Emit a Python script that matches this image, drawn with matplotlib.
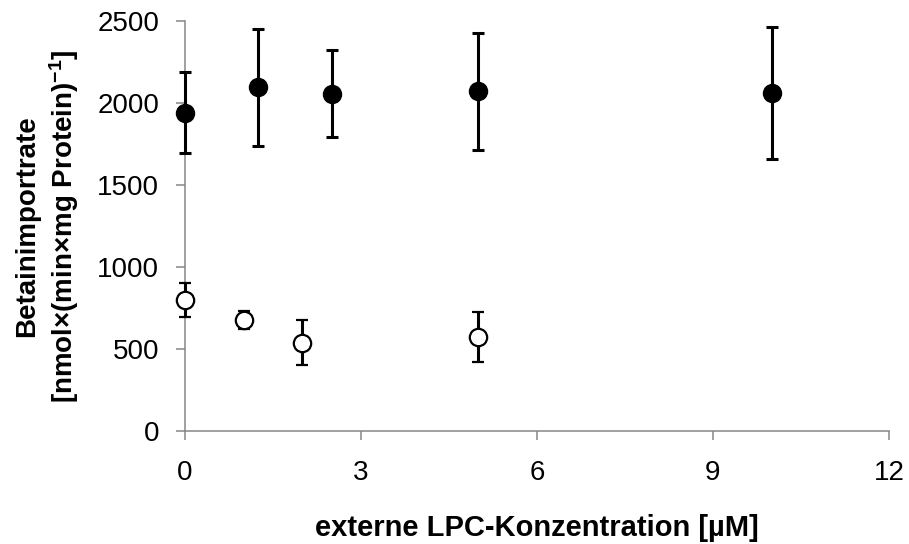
import numpy as np
import matplotlib
matplotlib.use("Agg")
import matplotlib.pyplot as plt

plt.rcParams['font.family'] = ['Liberation Sans', 'DejaVu Sans']
plt.rcParams['mathtext.default'] = 'regular'

# filled circles
x_filled = [0, 1.25, 2.5, 5, 10]
y_filled = [1940, 2095, 2055, 2070, 2060]
err_filled = [245, 355, 265, 355, 400]

# open circles
x_open = [0, 1, 2, 5]
y_open = [800, 678, 540, 575]
err_open = [105, 56, 135, 150]

fig = plt.figure(figsize=(9.09, 5.44), dpi=100)
ax = fig.add_axes([0.2035, 0.207, 0.7745, 0.755])

ax.errorbar(x_filled, y_filled, yerr=err_filled, fmt='o', color='black',
            markersize=13, elinewidth=2.2, capsize=4.5, capthick=2.2, zorder=3)
ax.errorbar(x_open, y_open, yerr=err_open, fmt='o', color='black',
            mfc='white', mec='black', mew=1.6, markersize=12.5,
            elinewidth=2.2, capsize=4.5, capthick=2.2, zorder=3)

ax.set_xlim(0, 12)
ax.set_ylim(0, 2500)
ax.set_xticks([0, 3, 6, 9, 12])
ax.set_yticks([0, 500, 1000, 1500, 2000, 2500])

for s in ['top', 'right']:
    ax.spines[s].set_visible(False)
for s in ['left', 'bottom']:
    ax.spines[s].set_color('#868686')
    ax.spines[s].set_linewidth(1.1)
ax.spines['left'].set_zorder(1)
ax.tick_params(axis='both', direction='out', color='#868686', length=6.5,
               width=1.1, labelsize=20)
ax.tick_params(axis='y', pad=12)
ax.tick_params(axis='x', pad=14)
for c in ax.get_children():
    c.set_clip_on(False)

ax.set_xlabel('externe LPC-Konzentration [µM]', fontsize=21, fontweight='bold',
              labelpad=20)
ax.set_ylabel('Betainimportrate\n[nmol×(min×mg Protein)$^{-1}$]', fontsize=20,
              fontweight='bold', labelpad=12, linespacing=1.25)

fig.savefig('out.png', dpi=100)
